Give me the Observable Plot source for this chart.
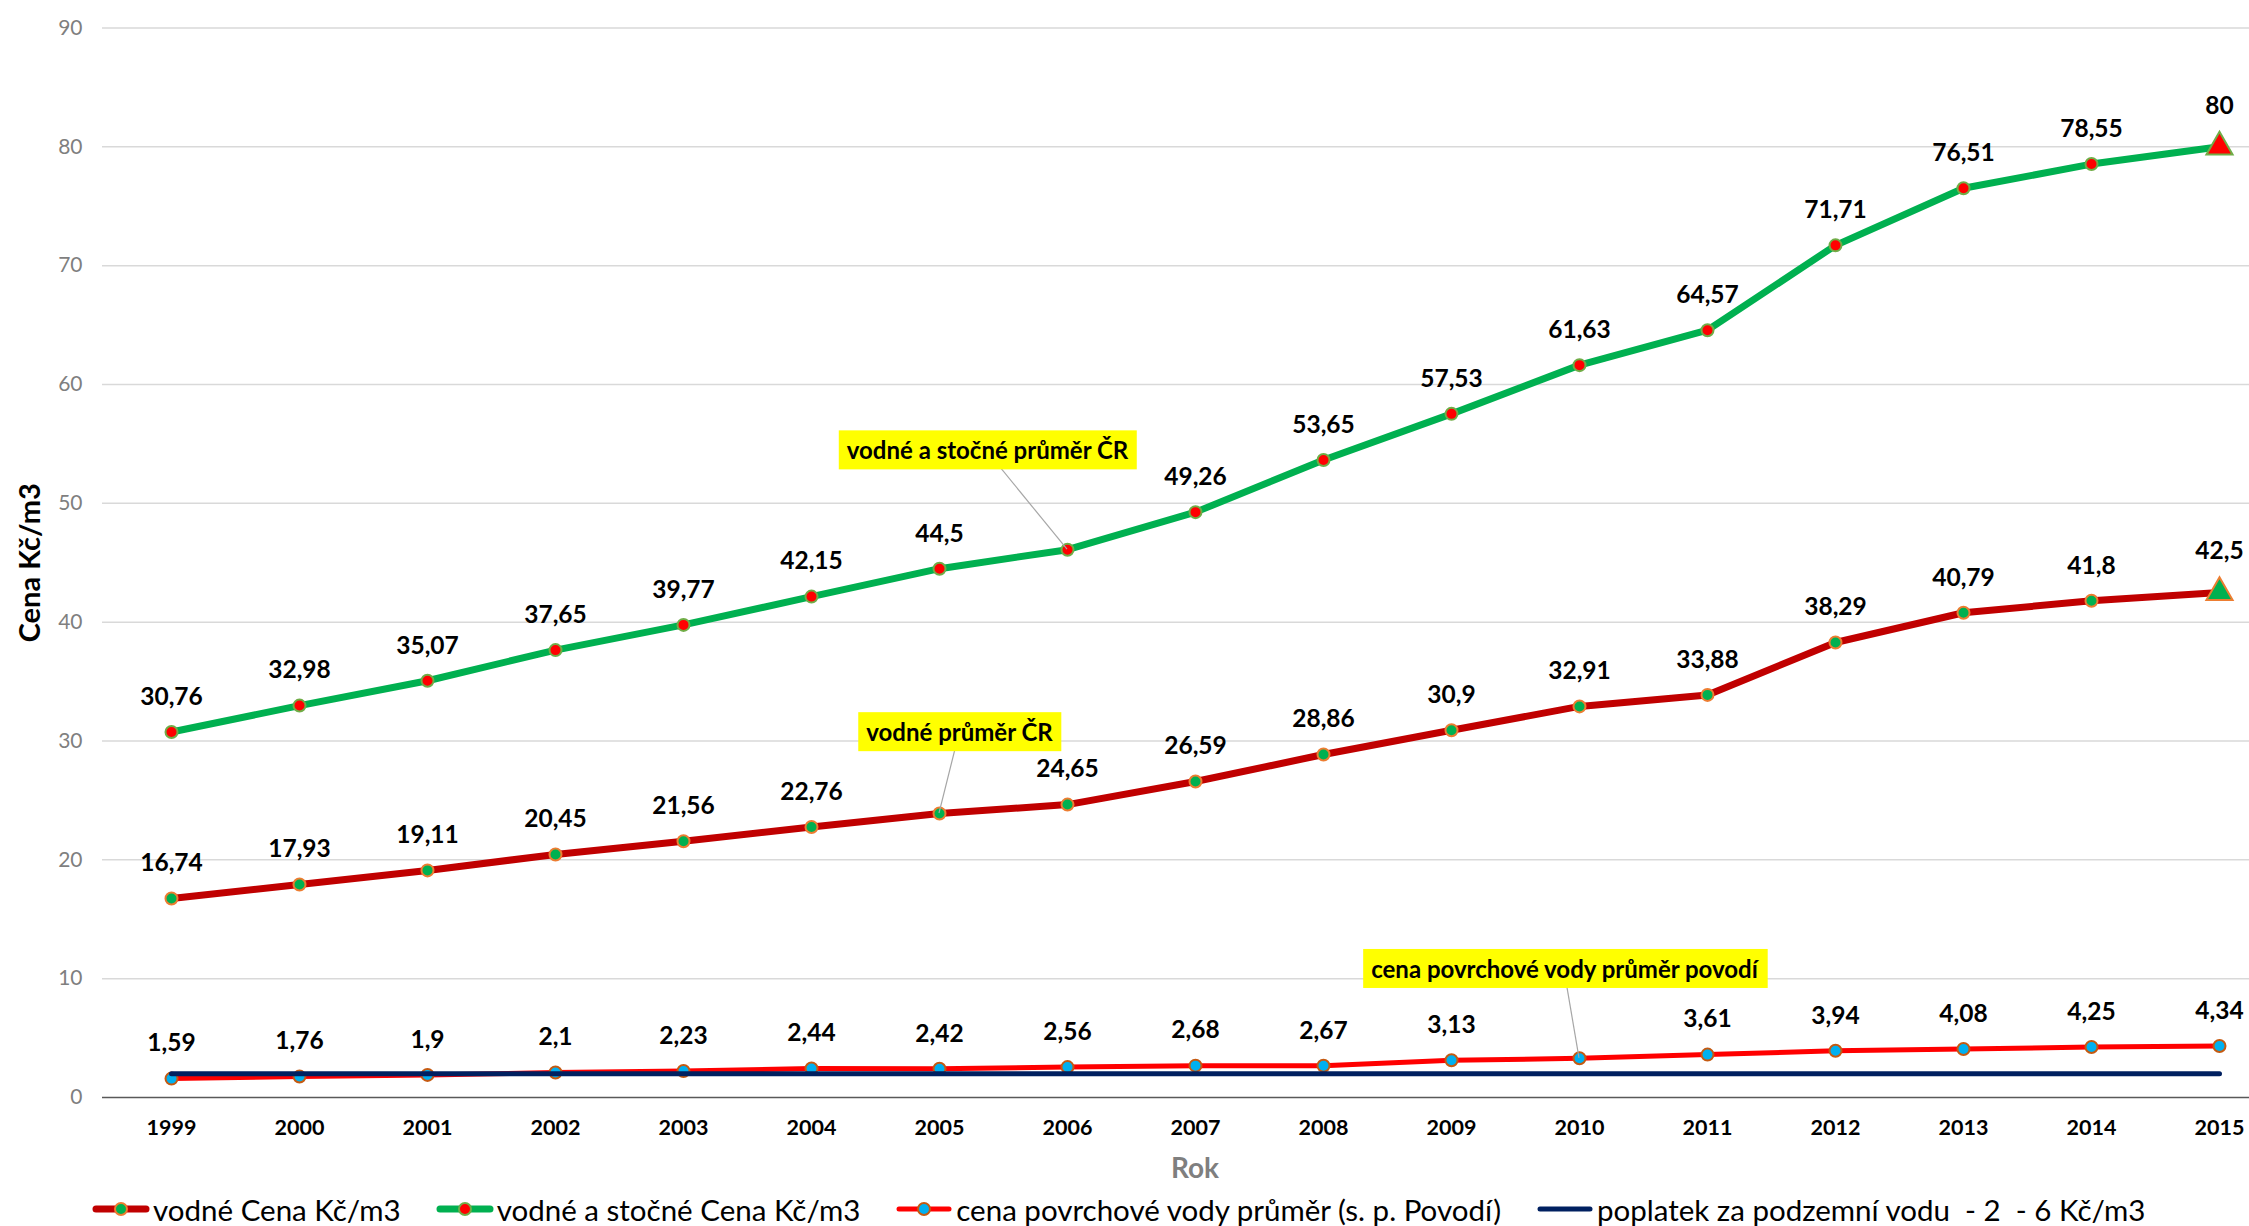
<!DOCTYPE html>
<html><head><meta charset="utf-8">
<script src="https://cdn.jsdelivr.net/npm/d3@7"></script>
<script src="https://cdn.jsdelivr.net/npm/@observablehq/plot@0.6"></script>
<style>
html,body{margin:0;padding:0;background:#fff;overflow:hidden;}
body{width:2249px;height:1226px;font-family:Lato,sans-serif;}
#legend{display:flex;align-items:center;height:34px;padding-left:92px;font-size:29.5px;color:#000;white-space:pre;}
.item{display:flex;align-items:center;margin-right:35px;}
.item svg{margin-right:3px;}
</style></head><body><div id="chart"></div><div id="legend"></div>
<script>
// ---- data ----
const years = [1999,2000,2001,2002,2003,2004,2005,2006,2007,2008,2009,2010,2011,2012,2013,2014,2015];
const vodne = [16.74,17.93,19.11,20.45,21.56,22.76,23.9,24.65,26.59,28.86,30.9,32.91,33.88,38.29,40.79,41.8,42.5];
const vodneStocne = [30.76,32.98,35.07,37.65,39.77,42.15,44.5,46.1,49.26,53.65,57.53,61.63,64.57,71.71,76.51,78.55,80];
const povrchove = [1.59,1.76,1.9,2.1,2.23,2.44,2.42,2.56,2.68,2.67,3.13,3.3,3.61,3.94,4.08,4.25,4.34];
const poplatek = [2,2,2,2,2,2,2,2,2,2,2,2,2,2,2,2,2];
const seriesNames = ["vodné Cena Kč/m3","vodné a stočné Cena Kč/m3","cena povrchové vody průměr (s. p. Povodí)","poplatek za podzemní vodu  - 2  - 6 Kč/m3"];
const yTicks = [0,10,20,30,40,50,60,70,80,90];
const xTitle = "Rok";
const yTitle = "Cena Kč/m3";
const callouts = [
  {series:1, year:2006, text:"vodné a stočné průměr ČR"},
  {series:0, year:2005, text:"vodné průměr ČR"},
  {series:2, year:2010, text:"cena povrchové vody průměr povodí"}
];
const labelledSeries = [0,1,2];

// ---- styles ----
const styles = [
  {stroke:"#C00000", width:7, fill:"#00B050", mstroke:"#ED7D31", last:"triangle"},
  {stroke:"#00B050", width:7, fill:"#FF0000", mstroke:"#70AD47", last:"triangle"},
  {stroke:"#FF0000", width:5, fill:"#00B0F0", mstroke:"#C55A11", last:"circle"},
  {stroke:"#002060", width:5, fill:null}
];
const calloutOffsets = [{dx:-80,dy:-98},{dx:20,dy:-80},{dx:-15,dy:-88}];

const allValues = [vodne, vodneStocne, povrchove, poplatek];
const rows = allValues.map((vals, s) => years.map((year, i) => ({series:s, year, value:vals[i], last:i===years.length-1})));
const fmt = v => String(v).replace(".", ",");
const isCallout = d => callouts.some(c => c.series===d.series && c.year===d.year);

const W = 2249, H = 1192, y0 = 1097, yTop = 27.5;
const marks = [
  Plot.ruleY(yTicks.filter(d=>d>0), {stroke:"#d9d9d9", strokeWidth:1.5}),
  Plot.ruleY([0], {stroke:"#595959", strokeWidth:1.5}),
  Plot.axisY({ticks:yTicks, tickSize:0, tickPadding:20, fontSize:21, color:"#7f7f7f", label:null}),
  Plot.axisX({ticks:years, tickSize:0, tickPadding:22, fontSize:21.5, fontWeight:"bold", color:"#000", label:null, tickFormat:d=>String(d)}),
  Plot.text([yTitle], {frameAnchor:"left", text:d=>d, rotate:-90, dx:-72, textAnchor:"middle", fontSize:29, fontWeight:"bold", fill:"#000"}),
  Plot.text([xTitle], {frameAnchor:"bottom", text:d=>d, dx:19, dy:80, textAnchor:"middle", fontSize:28, fontWeight:"bold", fill:"#7f7f7f"})
];
rows.forEach((data, s) => {
  const st = styles[s];
  marks.push(Plot.line(data, {x:"year", y:"value", stroke:st.stroke, strokeWidth:st.width}));
  if (st.fill) {
    marks.push(Plot.dot(data.filter(d=>!(d.last && st.last==="triangle")), {x:"year", y:"value", r:6, fill:st.fill, stroke:st.mstroke, strokeWidth:2}));
    marks.push(Plot.dot(data.filter(d=>d.last && st.last==="triangle"), {x:"year", y:"value", r:9.7, symbol:"triangle", fill:st.fill, stroke:st.mstroke, strokeWidth:2}));
  }
});
labelledSeries.forEach(s => {
  const data = rows[s].filter(d => !isCallout(d));
  const tri = styles[s].last === "triangle";
  marks.push(Plot.text(data.filter(d=>!(d.last && tri)), {x:"year", y:"value", text:d=>fmt(d.value), dy:-35, fontSize:24.5, fontWeight:"bold", fill:"#000"}));
  marks.push(Plot.text(data.filter(d=>d.last && tri), {x:"year", y:"value", text:d=>fmt(d.value), dy:-41, fontSize:24.5, fontWeight:"bold", fill:"#000"}));
});
callouts.forEach((c, k) => {
  const o = calloutOffsets[k];
  const d = rows[c.series].find(r => r.year === c.year);
  marks.push(Plot.text([d], {x:"year", y:"value", text:()=>c.text, dx:o.dx, dy:o.dy, fontSize:24, fontWeight:"bold", fill:"#000", className:"callout callout-"+k}));
});

const chart = Plot.plot({
  width:W, height:H,
  marginLeft:102, marginRight:0, marginTop:yTop, marginBottom:H-y0,
  style:{fontFamily:"Lato, sans-serif", background:"#fff"},
  x:{type:"point", domain:years, range:[168,2221], padding:0},
  y:{domain:[0,90], range:[y0, yTop]},
  marks
});
document.getElementById("chart").appendChild(chart);

// callout boxes and leader lines
const sx = chart.scale("x"), sy = chart.scale("y");
const svg = d3.select(chart);
callouts.forEach((c, k) => {
  const o = calloutOffsets[k];
  const d = rows[c.series].find(r => r.year === c.year);
  const px = sx.apply(d.year), py = sy.apply(d.value);
  const g = svg.select("g.callout-" + k);
  const t = g.select("text").node();
  const bb = t.getBBox();
  const tr = t.getAttribute("transform");
  g.insert("rect", "text").attr("transform", tr)
    .attr("x", bb.x - 8).attr("y", bb.y - 5).attr("width", bb.width + 16).attr("height", bb.height + 10)
    .attr("fill", "#FFFF00");
  svg.insert("line", "g.callout-" + k)
    .attr("x1", px).attr("y1", py).attr("x2", px + o.dx).attr("y2", py + o.dy)
    .attr("stroke", "#a6a6a6").attr("stroke-width", 1.2);
});

// legend
const legend = d3.select("#legend");
seriesNames.forEach((name, s) => {
  const st = styles[s];
  const it = legend.append("div").attr("class", "item");
  const sv = it.append("svg").attr("width", 58).attr("height", 20);
  sv.append("line").attr("x1", 4).attr("x2", 54).attr("y1", 10).attr("y2", 10)
    .attr("stroke", st.stroke).attr("stroke-width", st.width).attr("stroke-linecap", "round");
  if (st.fill) sv.append("circle").attr("cx", 29).attr("cy", 10).attr("r", 6).attr("fill", st.fill).attr("stroke", st.mstroke).attr("stroke-width", 2);
  it.append("span").text(name);
});
</script></body></html>
